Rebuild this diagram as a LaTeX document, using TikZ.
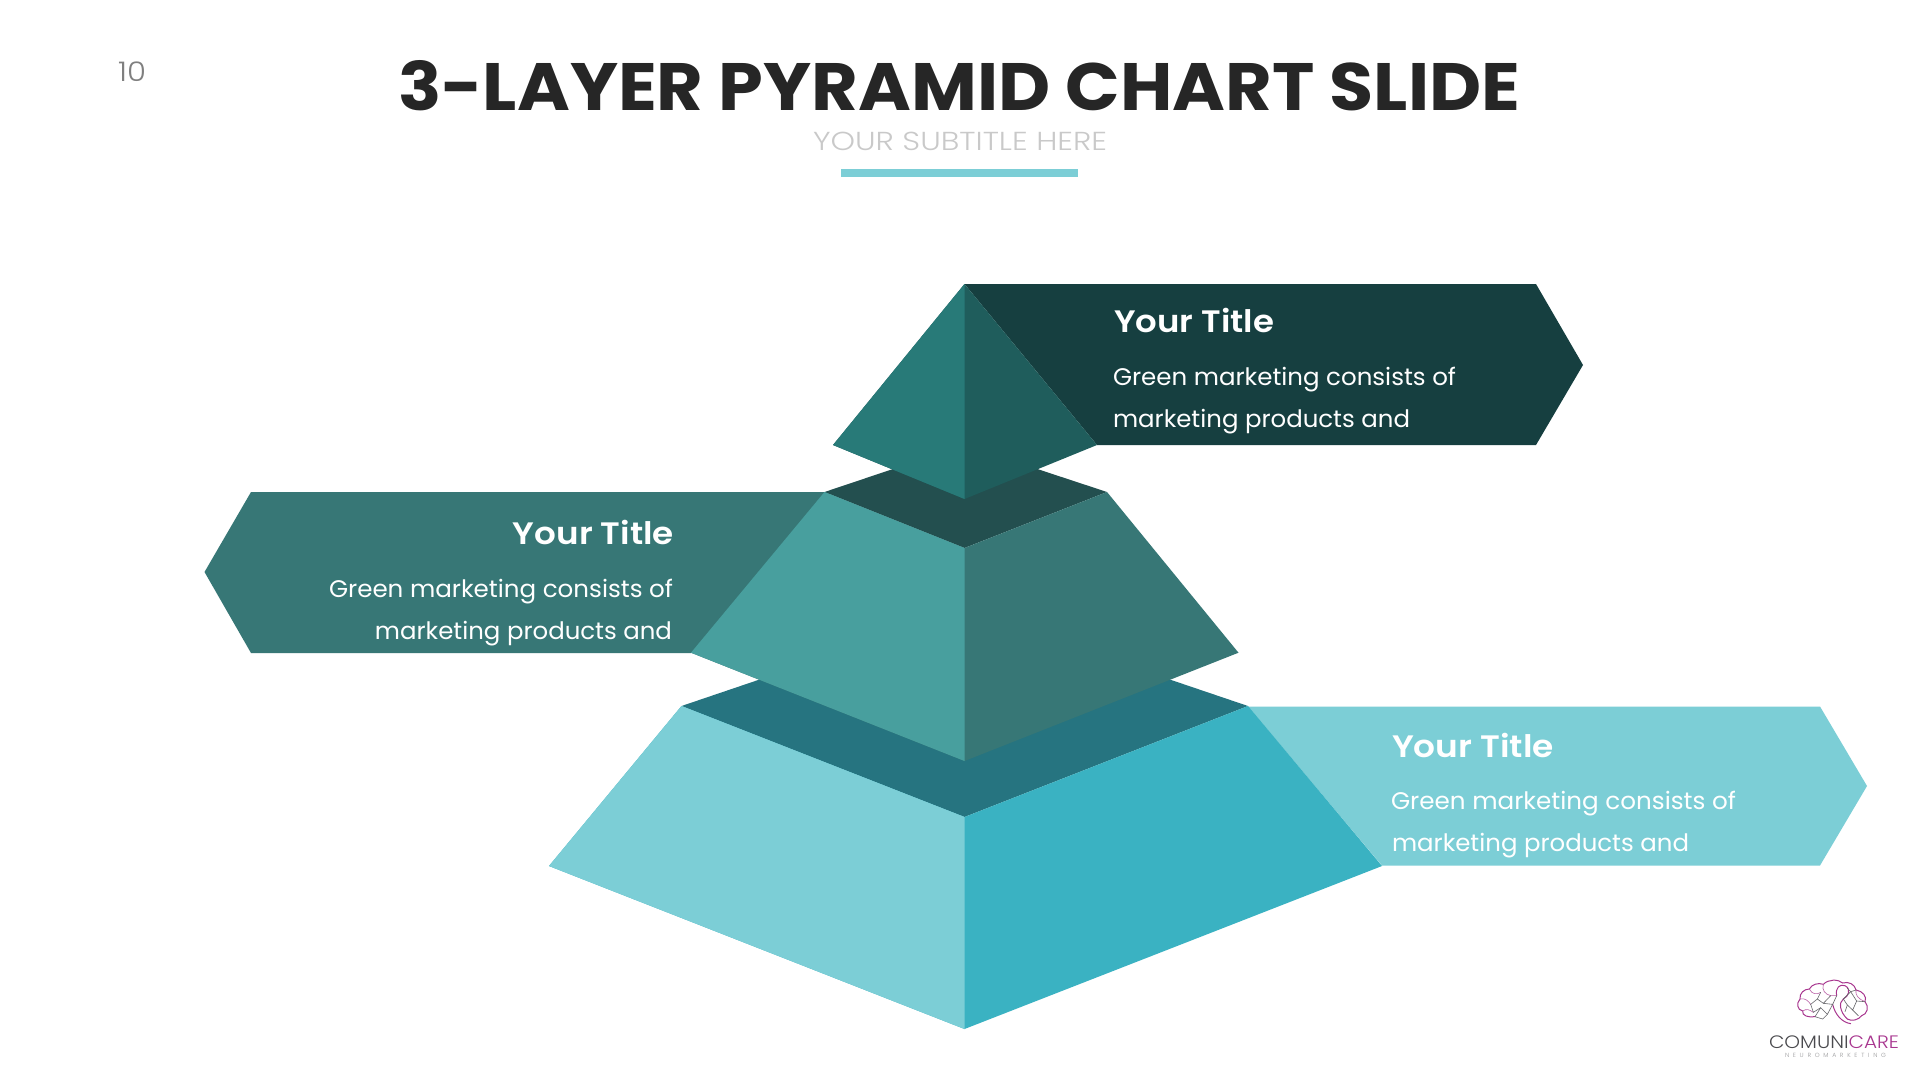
\documentclass[tikz,border=0pt]{standalone}
\usepackage{fontspec}
\usepackage{graphicx}
\setmainfont{Poppins}
\newfontfamily\semifont{Poppins SemiBold}
\newfontfamily\lightfont{Poppins Light}
\definecolor{chevTop}{HTML}{163F40}
\definecolor{topL}{HTML}{287A78}
\definecolor{topR}{HTML}{1F5D5C}
\definecolor{bandTop}{HTML}{234F4F}
\definecolor{midL}{HTML}{489F9E}
\definecolor{midR}{HTML}{377776}
\definecolor{bandLow}{HTML}{267480}
\definecolor{lowL}{HTML}{7CCED6}
\definecolor{lowR}{HTML}{3AB2C2}
\definecolor{titleC}{HTML}{262626}
\definecolor{subC}{HTML}{C9C9C9}
\definecolor{numC}{HTML}{7F7F7F}
\definecolor{logoP}{HTML}{A8368F}
\definecolor{logoG}{HTML}{4A4A4E}
\newcommand{\fitw}[2]{\resizebox{#1pt}{\height}{#2}}
\tikzset{
  x=1pt,y=-1pt,
  txt/.style={inner sep=0pt,outer sep=0pt,anchor=base west},
  txtr/.style={inner sep=0pt,outer sep=0pt,anchor=base east},
  head/.style={text=white,font=\semifont\fontsize{31}{31}\selectfont},
  body/.style={text=white,font=\fontsize{24}{24}\selectfont},
  brainp/.style={draw=logoP,line width=1pt,line cap=round,line join=round},
  braing/.style={draw=logoG!85,line width=0.6pt,line cap=round,line join=round},
  brainq/.style={draw=logoP!80,line width=0.6pt,line cap=round,line join=round},
}
\begin{document}
\begin{tikzpicture}
\useasboundingbox (0,0) rectangle (1920,1080);
\fill[white] (0,0) rectangle (1920,1080);
% header
\node[txt,text=numC,font=\lightfont\fontsize{27}{27}\selectfont] (num) at (118,81) {\fitw{28}{10}};
\node[txt,text=titleC,font=\bfseries\fontsize{67}{67}\selectfont] (title) at (398,110) {\fitw{1122}{3-LAYER PYRAMID CHART SLIDE}};
\node[txt,text=subC,font=\lightfont\fontsize{26}{26}\selectfont] (sub) at (813,150) {\fitw{294}{YOUR SUBTITLE HERE}};
\fill[lowL] (841,169) rectangle (1078,177);
% chevrons
\fill[chevTop] (964.5,284) -- (1536,284) -- (1583,365) -- (1536,445) -- (1097,445) -- cycle;
\fill[midR] (830,492) -- (251,492) -- (204.5,572) -- (251,653) -- (691,653) -- cycle;
\fill[lowL] (1248,706.5) -- (1820,706.5) -- (1867,786) -- (1820,865.5) -- (1382,865.5) -- cycle;
% bands
\fill[bandLow] (681.5,706) -- (964.5,610) -- (1248,706) -- (964.5,817) -- cycle;
\fill[bandTop] (824.5,492) -- (964.5,445) -- (1107,492) -- (964.5,548) -- cycle;
% bottom layer: whole face first, then the left half over it (no seam)
\fill[lowR] (681.5,706) -- (964.5,817) -- (1248,706) -- (1382,866) -- (964.5,1029) -- (549,866) -- cycle;
\fill[lowL] (681.5,706) -- (964.5,817) -- (964.5,1029) -- (549,866) -- cycle;
% middle layer
\fill[midR] (824.5,492) -- (964.5,548) -- (1107,492) -- (1238.5,652.7) -- (964.5,761) -- (691,652.7) -- cycle;
\fill[midL] (824.5,492) -- (964.5,548) -- (964.5,761) -- (691,652.7) -- cycle;
% top layer
\fill[topR] (964.5,284) -- (1097,445) -- (964.5,499) -- (833,445) -- cycle;
\fill[topL] (964.5,284) -- (964.5,499) -- (833,445) -- cycle;
% texts top
\node[txt,head] (t1) at (1114,332) {\fitw{160}{Your Title}};
\node[txt,body] (b1a) at (1113,385) {\fitw{343}{Green marketing consists of}};
\node[txt,body] (b1b) at (1113,427) {\fitw{297}{marketing products and}};
% texts left
\node[txtr,head] (t2) at (674,544) {\fitw{161}{Your Title}};
\node[txtr,body] (b2a) at (673,597) {\fitw{344}{Green marketing consists of}};
\node[txtr,body] (b2b) at (672,639) {\fitw{297}{marketing products and}};
% texts right
\node[txt,head] (t3) at (1392,757) {\fitw{162}{Your Title}};
\node[txt,body] (b3a) at (1391,809) {\fitw{345}{Green marketing consists of}};
\node[txt,body] (b3b) at (1392,851) {\fitw{297}{marketing products and}};
% logo brain
\begin{scope}[shift={(1790,975)},scale=0.3333]
\draw[brainp] (75,125) .. controls (55,128) and (35,122) .. (38,108)
 .. controls (22,105) and (18,85) .. (30,72)
 .. controls (28,55) and (42,42) .. (58,42)
 .. controls (65,28) and (85,22) .. (100,28)
 .. controls (115,12) and (145,12) .. (158,24)
 .. controls (175,18) and (195,28) .. (198,45)
 .. controls (218,48) and (232,65) .. (225,80)
 .. controls (238,95) and (232,118) .. (215,122)
 .. controls (205,135) and (185,140) .. (172,132);
\draw[brainp] (140,62) .. controls (135,38) and (150,26) .. (165,32)
 .. controls (185,42) and (175,65) .. (160,72)
 .. controls (145,82) and (150,112) .. (172,132);
\draw[brainp] (128,88) .. controls (135,118) and (155,142) .. (182,146);
\draw[brainq] (100,28) .. controls (95,45) and (105,58) .. (122,62) -- (140,62);
\draw[brainq] (58,42) .. controls (66,58) and (80,60) .. (92,52);
\draw[brainq] (30,72) .. controls (45,68) and (55,78) .. (62,88);
\draw[brainq] (38,108) .. controls (50,100) and (58,104) .. (70,112);
\draw[brainq] (198,45) .. controls (195,60) and (205,72) .. (225,80);
\draw[braing] (62,88) -- (82,72) -- (100,85) -- (122,62);
\draw[braing] (82,72) -- (92,52);
\draw[braing] (62,88) -- (70,112) -- (92,98) -- (112,118) -- (128,88) -- (100,85);
\draw[braing] (75,125) -- (92,98);
\draw[braing] (112,118) -- (98,132) -- (75,125);
\draw[braing] (128,88) -- (140,62);
\draw[braing] (160,72) -- (182,50) -- (198,45);
\draw[braing] (172,40) -- (182,50) -- (200,78) -- (188,105) -- (172,90) -- (160,72);
\draw[braing] (200,78) -- (225,80);
\draw[braing] (188,105) -- (205,122);
\draw[braing] (172,90) -- (165,110);
\end{scope}
\node[txt,text=logoG,font=\lightfont\fontsize{18}{18}\selectfont] (logoa) at (1769,1048)
  {\fitw{130}{COMUNI\textcolor{logoP}{CARE}}};
\node[txt,text=logoG!55,font=\lightfont\fontsize{6}{6}\selectfont\addfontfeature{LetterSpace=60}] (logob) at (1785,1057)
  {\fitw{101}{NEUROMARKETING}};
\end{tikzpicture}
\end{document}
